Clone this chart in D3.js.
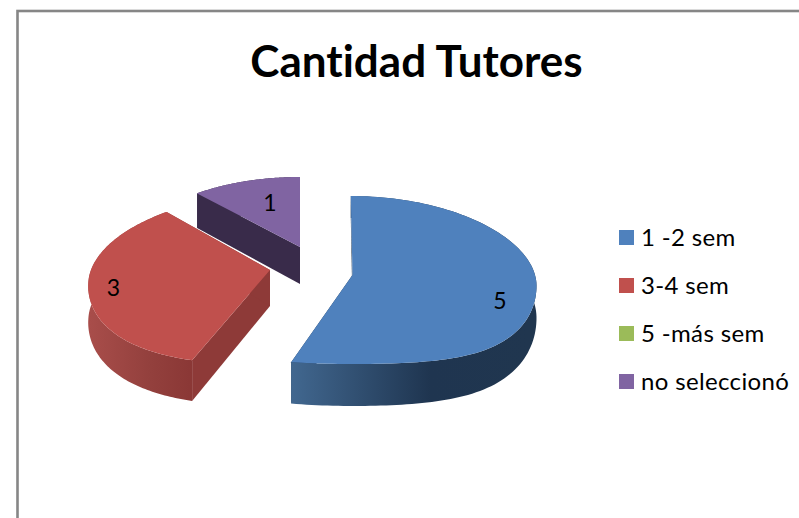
<!DOCTYPE html>
<html>
<head>
<meta charset="utf-8">
<script src="https://cdn.jsdelivr.net/npm/d3@7"></script>
<style>
  html, body { margin: 0; padding: 0; background: #fff; overflow: hidden; }
  svg { display: block; }
  text { font-family: Lato, "Open Sans", sans-serif; fill: #000; font-variant-ligatures: none; }
</style>
</head>
<body>
<div id="chart"></div>
<script>
// chart values
const chartTitle = "Cantidad Tutores";
const categories = ["1 -2 sem", "3-4 sem", "5 -más sem", "no seleccionó"];
const seriesValues = [5, 3, 0, 1];

const colors = d3.scaleOrdinal().domain(categories)
    .range(["#4f81bd", "#c0504d", "#9bbb59", "#8064a2"]);

// Projection of each exploded slice, fitted by eye. The 3D look is only a
// skewed circle with a wall dropped under it.
const sliceView = {
    "1 -2 sem": { ax: 352.5, ay: 275, rx: 184, sx: -1.7, ym: 84, k: 5, b: 10, c: 24, d0: 32, d1: 10,
        wall: ["#41678f", "#1f3550", "#20364f"], wallX: [292, 430, 530], face: "#1f3550" },
    "3-4 sem": { ax: 270, ay: 270, rx: 181, sx: 17, ym: 86, k: 8.3, b: 7, c: 12, d0: 36, d1: 5,
        wall: ["#a84d4a", "#93403d", "#8a3735"], wallX: [90, 150, 195], face: "#8e3a38" },
    "no seleccionó": { ax: 300, ay: 247, rx: 160, sx: 0, ym: 70, k: 0, b: 0, c: 0, d0: 37, d1: 3,
        wall: ["#392b4a", "#392b4a", "#392b4a"], wallX: [190, 250, 300], face: "#392b4a" }
};
const drawOrder = ["no seleccionó", "3-4 sem", "1 -2 sem"];

const width = 799, height = 518;

const svg = d3.select("#chart").append("svg")
    .attr("width", width)
    .attr("height", height);

// frame runs off the right and bottom of the crop
svg.append("rect")
    .attr("x", 17.5).attr("y", 11)
    .attr("width", 800).attr("height", 600)
    .attr("fill", "#fff")
    .attr("stroke", "#868686")
    .attr("stroke-width", 2.6);

svg.append("text")
    .attr("x", 416.5).attr("y", 77)
    .attr("text-anchor", "middle")
    .attr("font-size", 44)
    .attr("font-weight", 700)
    .text(chartTitle);

const pie = d3.pie().sort(null).value(d => d.value);
const arcs = pie(categories.map((name, i) => ({ name, value: seriesValues[i] })));

function project(view, r, a) {
    const u = r * Math.sin(a), v = r * Math.cos(a);
    const x = view.ax + view.rx * u + view.sx * v;
    const y = view.ay - (view.ym * v - view.k * v * v)
        + view.b * u * u + view.c * u * u * Math.max(0, -v);
    return { x, y, depth: view.d0 - view.d1 * v };
}

const line = d3.line().x(d => d.x).y(d => d.y);
const drop = p => ({ x: p.x, y: p.y + p.depth });

const defs = svg.append("defs");
const pieGroup = svg.append("g");

drawOrder.forEach((name, n) => {
    const d = arcs.find(s => s.data.name === name);
    const view = sliceView[name];
    const angles = d3.range(0, 121).map(i => d.startAngle + (d.endAngle - d.startAngle) * i / 120);
    const rim = angles.map(a => project(view, 1, a));
    const apex = project(view, 0, 0);
    const first = rim[0], last = rim[rim.length - 1];

    const gradId = "wall" + n;
    const grad = defs.append("linearGradient").attr("id", gradId)
        .attr("gradientUnits", "userSpaceOnUse")
        .attr("x1", view.wallX[0]).attr("x2", view.wallX[2])
        .attr("y1", 0).attr("y2", 0);
    view.wall.forEach((c, i) => grad.append("stop")
        .attr("offset", (view.wallX[i] - view.wallX[0]) / (view.wallX[2] - view.wallX[0]))
        .attr("stop-color", c));

    const g = pieGroup.append("g");

    // cut faces
    [first, last].forEach(p => {
        g.append("path")
            .attr("d", line([apex, p, drop(p), drop(apex)]) + "Z")
            .attr("fill", view.face);
    });

    // outer wall
    g.append("path")
        .attr("d", line(rim.concat(rim.map(drop).reverse())) + "Z")
        .attr("fill", `url(#${gradId})`);

    // top surface
    g.append("path")
        .attr("d", line([apex].concat(rim)) + "Z")
        .attr("fill", colors(name));
});

// data labels, only for slices that exist
const labelSpots = {
    "1 -2 sem": [500, 309],
    "3-4 sem": [113.5, 296],
    "no seleccionó": [270, 211]
};
arcs.filter(d => d.value > 0).forEach(d => {
    svg.append("text")
        .attr("x", labelSpots[d.data.name][0])
        .attr("y", labelSpots[d.data.name][1])
        .attr("text-anchor", "middle")
        .attr("font-size", 23)
        .text(d.value);
});

// legend
const legendY = d3.scalePoint().domain(categories).range([237.5, 381.5]);
const legend = svg.append("g").selectAll("g")
    .data(categories)
    .join("g")
    .attr("transform", d => `translate(619,${legendY(d)})`);

legend.append("rect")
    .attr("x", 0).attr("y", -7.5)
    .attr("width", 15).attr("height", 15)
    .attr("fill", d => colors(d));

legend.append("text")
    .attr("x", 22).attr("y", 8)
    .attr("font-size", 24)
    .attr("letter-spacing", 0.35)
    .text(d => d);
</script>
</body>
</html>
